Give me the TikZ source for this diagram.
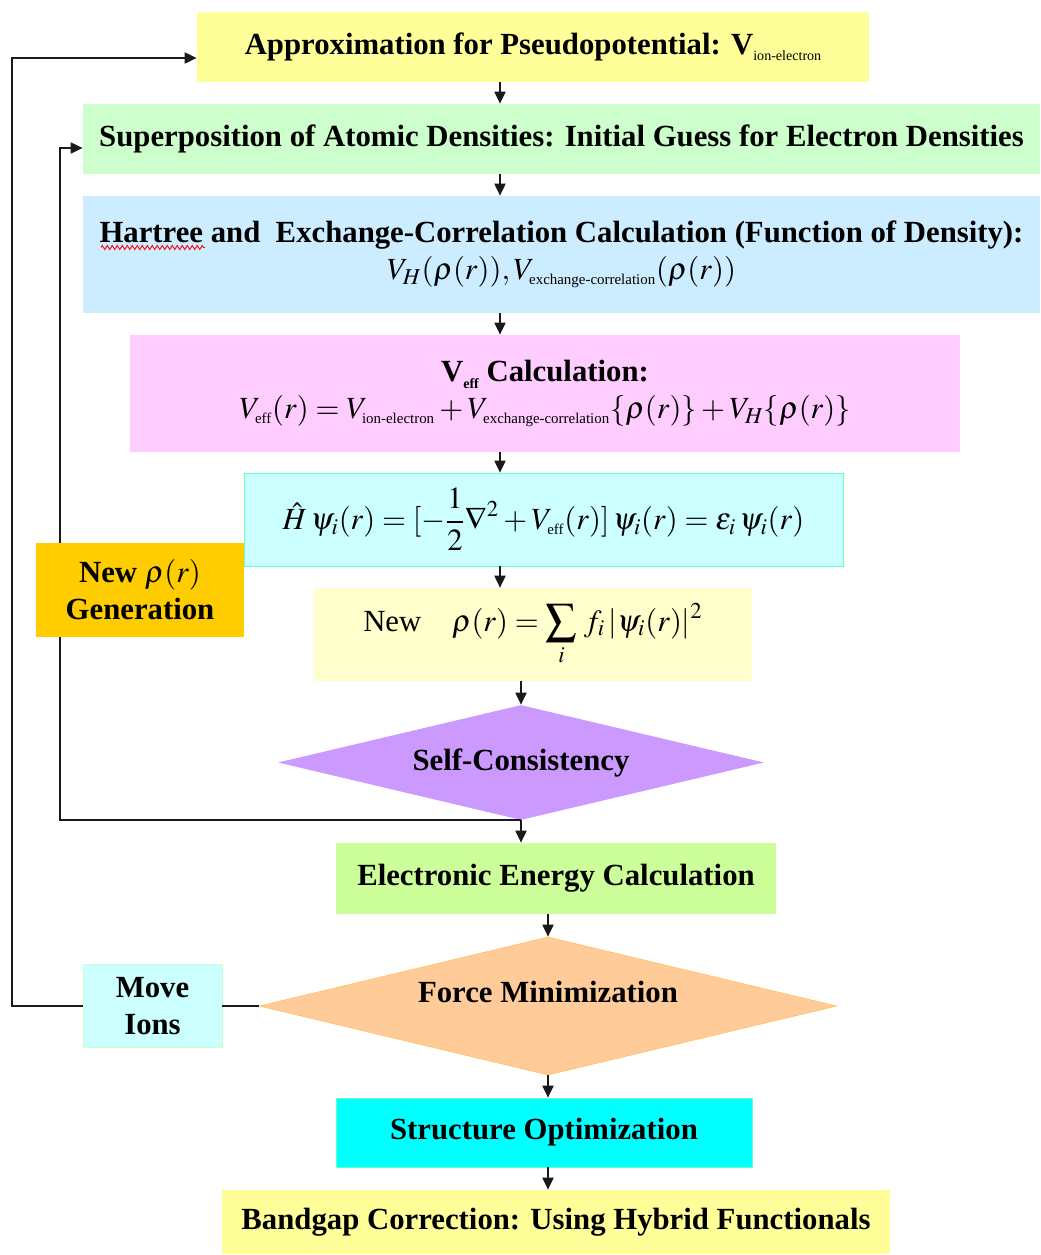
\documentclass[tikz,border=0pt]{standalone}
\usepackage{mathptmx}
\usepackage{fontspec}
\setmainfont{Liberation Serif}
\usepackage{tikz}
\usetikzlibrary{positioning,arrows.meta,shapes.geometric,decorations.pathmorphing}
\definecolor{dftpseudo}{HTML}{FFFF99}
\definecolor{dftsuper}{HTML}{CCFFCC}
\definecolor{dfthartree}{HTML}{CCECFF}
\definecolor{dftveff}{HTML}{FFCCFF}
\definecolor{dftks}{HTML}{CCFFFF}
\definecolor{dftksline}{HTML}{66FFCC}
\definecolor{dftrho}{HTML}{FFFFCC}
\definecolor{dftscf}{HTML}{CC99FF}
\definecolor{dftenergy}{HTML}{CCFF99}
\definecolor{dftforce}{HTML}{FFCC99}
\definecolor{dftforceline}{HTML}{FFC266}
\definecolor{dftgen}{HTML}{FFCC00}
\definecolor{dftstruct}{HTML}{00FFFF}
\definecolor{dftline}{HTML}{1A1A1A}
\newcommand{\lowsub}[1]{\raisebox{-0.45ex}{\fontsize{8}{9}\selectfont #1}}
\newcommand{\msub}[1]{\mbox{\fontsize{8.5}{9}\selectfont\mdseries\upshape #1}}

\begin{document}
\begin{tikzpicture}[
  font=\fontsize{17.5}{21}\selectfont\bfseries,
  stepbox/.style={rectangle, align=center, inner sep=2pt},
  decide/.style={diamond, aspect=4, inner sep=0pt},
  plain/.style={draw=dftline, line width=1.1pt},
  link/.style={plain, -{Triangle[length=0.24cm, width=0.22cm]}},
  squiggle/.style={draw=red, line width=0.5pt,
                   decorate, decoration={zigzag, amplitude=0.04cm, segment length=0.1cm}},
]
  \useasboundingbox (0,0) rectangle (20.82,-25.10);

  % ---- SCF cycle -------------------------------------------------------------
  \node[stepbox, fill=dftpseudo, minimum width=13.44cm, minimum height=1.4cm]
    (pseudo) at (10.66,-0.94)
    {Approximation for Pseudopotential: V\lowsub{\mdseries ion-electron}};
  \node[stepbox, fill=dftsuper, minimum width=19.14cm, minimum height=1.4cm]
    (superpos) at (11.23,-2.78)
    {Superposition of Atomic Densities: Initial Guess for Electron Densities};
  \node[stepbox, fill=dfthartree, minimum width=19.14cm, minimum height=2.34cm]
    (hartree) at (11.23,-5.09)
    {Hartree and\ \ Exchange-Correlation Calculation (Function of Density):\\
     $V_H(\rho(r)), V_{\msub{exchange-correlation}}(\rho(r))$};
  \node[stepbox, fill=dftveff, minimum width=16.6cm, minimum height=2.34cm]
    (veff) at (10.9,-7.87)
    {V\lowsub{eff} Calculation:\\
     $V_{\msub{eff}}(r) = V_{\msub{ion-electron}} + V_{\msub{exchange-correlation}}\{\rho(r)\}
      + V_H\{\rho(r)\}$};
  \node[stepbox, fill=dftks, draw=dftksline, minimum width=11.98cm, minimum height=1.86cm]
    (kohnsham) at (10.87,-10.39)
    {$\displaystyle \hat{H}\,\psi_i(r) = [-\frac{1}{2}\nabla^2 + V_{\msub{eff}}(r)]\,\psi_i(r)
      = \varepsilon_i\,\psi_i(r)$};
  \node[stepbox, fill=dftrho, minimum width=8.76cm, minimum height=1.86cm]
    (newrho) at (10.66,-12.69)
    {\mdseries New\quad $\displaystyle \rho(r) = \sum_i\, f_i\,|\psi_i(r)|^2$};
  \node[decide, fill=dftscf, minimum width=9.72cm, minimum height=2.3cm]
    (scf) at (10.42,-15.25) {Self-Consistency};

  % spell-check mark under "Hartree"
  \draw[squiggle] (2.02,-4.95) -- (4.1,-4.95);

  % ---- ionic relaxation ------------------------------------------------------
  \node[stepbox, fill=dftenergy, minimum width=8.8cm, minimum height=1.42cm]
    (energy) at (11.12,-17.57) {Electronic Energy Calculation};
  \node[decide, fill=dftforce, draw=dftforceline, line width=0.4pt, text depth=0.55cm,
        minimum width=11.54cm, minimum height=2.76cm]
    (force) at (10.96,-20.12) {Force Minimization};
  \node[stepbox, fill=dftks, draw=dftsuper, minimum width=2.78cm, minimum height=1.66cm]
    (moveions) at (3.05,-20.12) {Move\\Ions};
  \node[stepbox, fill=dftstruct, draw=dftksline, minimum width=8.32cm, minimum height=1.38cm]
    (struct) at (10.88,-22.65) {Structure Optimization};
  \node[stepbox, fill=dftpseudo, minimum width=13.36cm, minimum height=1.28cm]
    (bandgap) at (11.12,-24.44) {Bandgap Correction: Using Hybrid Functionals};

  % ---- connectors ------------------------------------------------------------
  \coordinate (colA) at (10.0,0);
  \coordinate (outerL) at (0.24,-10);
  \coordinate (innerL) at (1.2,-10);
  \coordinate (pseudoIn) at ([yshift=-0.22cm]pseudo.west);
  \coordinate (superIn) at ([yshift=-0.18cm]superpos.west);

  \draw[link] (pseudo.south -| colA) -- (superpos.north -| colA);
  \draw[link] (superpos.south -| colA) -- (hartree.north -| colA);
  \draw[link] (hartree.south -| colA) -- (veff.north -| colA);
  \draw[link] (veff.south -| colA) -- (kohnsham.north -| colA);
  \draw[link] (kohnsham.south -| colA) -- (newrho.north -| colA);
  \draw[link] (newrho.south -| scf.north) -- (scf.north);
  \draw[link] (scf.south) -- (scf.south |- energy.north);
  \draw[link] (energy.south -| force.north) -- (force.north);
  \draw[link] (force.south) -- (force.south |- struct.north);
  \draw[link] (struct.south -| force.south) -- (bandgap.north -| force.south);

  \draw[link] (scf.south) -| (innerL) |- (superIn);
  \draw[plain] (force.west) -- (moveions.east);
  \draw[link] (moveions.west) -| (outerL) |- (pseudoIn);

  % drawn last so that it sits on the density loop
  \node[stepbox, fill=dftgen, minimum width=4.16cm, minimum height=1.88cm]
    (newgen) at (2.8,-11.8) {New $\rho(r)$\\Generation};
\end{tikzpicture}
\end{document}
